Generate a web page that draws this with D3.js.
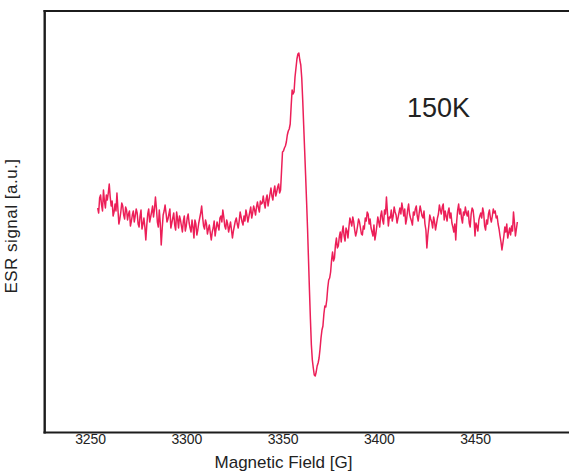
<!DOCTYPE html>
<html>
<head>
<meta charset="utf-8">
<script src="https://cdn.jsdelivr.net/npm/d3@7/dist/d3.min.js"></script>
<style>
  html, body { margin: 0; padding: 0; background: #fff; }
  svg { display: block; }
  text { font-family: "Liberation Sans", Arial, Helvetica, sans-serif; fill: #222; }
</style>
</head>
<body>
<svg id="chart" width="569" height="471"></svg>
<script>
// ESR spectrum, 150 K: field sweep in gauss with a 0.5 G sample step
const fieldStart = 3254;
const fieldStep = 0.5;

// recorded signal (a.u.), one value per sample
const signal = [
  7, 2, 17, 20, 10, 4, 25, 14, 7, 20, 15, 22, 31, 18, 9, 14, -1, 3, 11,
  4, 22, 6, -9, -4, 3, 12, 9, 0, -4, 8, 5, -5, 1, 4, -11, -6, 0, 4, -7,
  -1, 6, 2, -9, -12, -1, 5, -14, -9, -3, -12, -25, -10, 1, 6, -7, -2, 3, 9, -2,
  6, 18, 7, -7, -12, 5, -8, -30, -14, 0, 4, 10, 2, -7,
  -4, 1, 6, -13, -8, -3, 2, -10, -15, 3, -4, -13, -1, -5, -11, -17, -6, -1, -16, -11,
  -3, 1, -8, -13, -17, -5, -12, -23, -5, -9, -20, -15, -8, -3, 2, 9, -2, -11, -14, -5,
  -9, -19, -14, -10, -18, -25, -17, -13, -6, -21, -14, -7, -11, -15, -3, -1, -7, 5, -2, -11,
  -14, -5, -9, -17, -12, -7, -15, -23, -16, -11, -6, -3, -9, -13, -6, 3, -2, -7, -10, -1,
  -6, 5, 0, -7, -2, 3, 8, -3, 2, 9, 5, 0, 8, 13, 7, 3, 14, 11, 12, 19,
  12, 7, 16, 20, 9, 15, 21, 27, 19, 15, 24, 29, 19, 23, 28, 31, 22, 25,
  44, 63, 64, 67, 69, 73, 80, 84, 86, 91, 109, 125, 121, 123, 138, 147, 156, 161, 162, 155,
  150, 137, 115, 90, 65, 40, 14, -13, -44, -75, -104, -130, -145, -153, -160, -161, -157, -151, -148, -143,
  -134, -123, -115, -111, -99, -91, -92, -85, -73, -65, -63, -57, -45, -37, -46, -43, -30, -23, -33, -31, -22, -17,
  -27, -17, -11, -21, -26, -13, -16, -23, -12, -3, -7, -11, -2, -7, -15, -21, -17, -11, -4, -7,
  -13, -19, -20, -11, -14, -3, -6, 3, 1, -9, -4, -13, -17, -21, -10, -25, -19, -11, -2, -7,
  -12, -1, 4, -5, -9, 5, 1, 18, 3, -11, -2, -3, 5, -6, -1, 8, 3, 0, -8, -3,
  2, 7, 1, 12, 6, -1, 6, -9, -4, 5, 11, 1, -3, -6, -10, 3, 0, 6, 9, -1,
  -6, 2, 9, 4, -1, -3, 4, -9, -15, -33, -20, -11, 0, -4, -7, -13, -2, -7, -15, -9,
  -3, 1, 10, 5, 1, 8, 11, -5, 4, -1, -6, 3, 7, -3, 2, -8, -12, -17, -9, -25,
  -6, 5, 11, 1, 6, -3, -8, 3, 0, 8, 2, -1, 4, -8, -12, 1, 7, 5, -4, -21,
  -8, -11, -16, -5, -1, 2, -3, 7, 2, -11, -15, -5, -9, 1, 5, -3, -7, -1, 6, 2,
  4, -3, -1, -9, -14, -21, -27, -35, -28, -21, -12, -17, -9, -23, -18, -13, -20, -11, -16, 3, -8, -21, -14, -7
];

const xTicks = [3250, 3300, 3350, 3400, 3450];
const xTitle = "Magnetic Field [G]";
const yTitle = "ESR signal [a.u.]";
const tempLabel = "150K";

const svg = d3.select("#chart");

// frame edges (left, top, bottom); the plot runs off the right edge
const frame = { left: 44.7, top: 11, bottom: 432.5, right: 572 };

const x = d3.scaleLinear().domain([3250, 3450]).range([90, 475]);
const y = d3.scaleLinear().domain([-200, 200]).range([415, 15]);

const points = signal.map((v, i) => ({ field: fieldStart + i * fieldStep, value: v }));

// signal trace
svg.append("path")
  .datum(points)
  .attr("fill", "none")
  .attr("stroke", "#ec1f58")
  .attr("stroke-width", 1.5)
  .attr("stroke-linejoin", "round")
  .attr("d", d3.line().x(d => x(d.field)).y(d => y(d.value)));

// frame
const frameG = svg.append("g")
  .attr("stroke", "#1c1c1c")
  .attr("fill", "none");
frameG.append("line")
  .attr("x1", frame.left).attr("x2", frame.left)
  .attr("y1", frame.top - 1).attr("y2", frame.bottom + 1)
  .attr("stroke-width", 2.4);
frameG.append("line")
  .attr("x1", frame.left - 1.2).attr("x2", frame.right)
  .attr("y1", frame.top).attr("y2", frame.top)
  .attr("stroke-width", 2);
frameG.append("line")
  .attr("x1", frame.left - 1.2).attr("x2", frame.right)
  .attr("y1", frame.bottom).attr("y2", frame.bottom)
  .attr("stroke-width", 2);

// field tick labels (no tick marks)
const xAxis = svg.append("g")
  .attr("transform", `translate(0,${frame.bottom})`)
  .call(d3.axisBottom(x).tickValues(xTicks).tickSize(0).tickPadding(2).tickFormat(d3.format("d")));
xAxis.select(".domain").remove();
xAxis.selectAll("text")
  .attr("font-family", "\"Liberation Sans\", Arial, sans-serif")
  .attr("font-size", 14)
  .attr("letter-spacing", -0.1)
  .attr("fill", "#222");

// axis titles
svg.append("text")
  .attr("x", 283.5)
  .attr("y", 468)
  .attr("text-anchor", "middle")
  .attr("font-size", 17)
  .text(xTitle);

svg.append("text")
  .attr("transform", "translate(16.5,226) rotate(-90)")
  .attr("text-anchor", "middle")
  .attr("font-size", 17)
  .attr("letter-spacing", 0.5)
  .text(yTitle);

// temperature annotation
svg.append("text")
  .attr("x", 407)
  .attr("y", 117)
  .attr("font-size", 27)
  .attr("fill", "#111")
  .text(tempLabel);
</script>
</body>
</html>
